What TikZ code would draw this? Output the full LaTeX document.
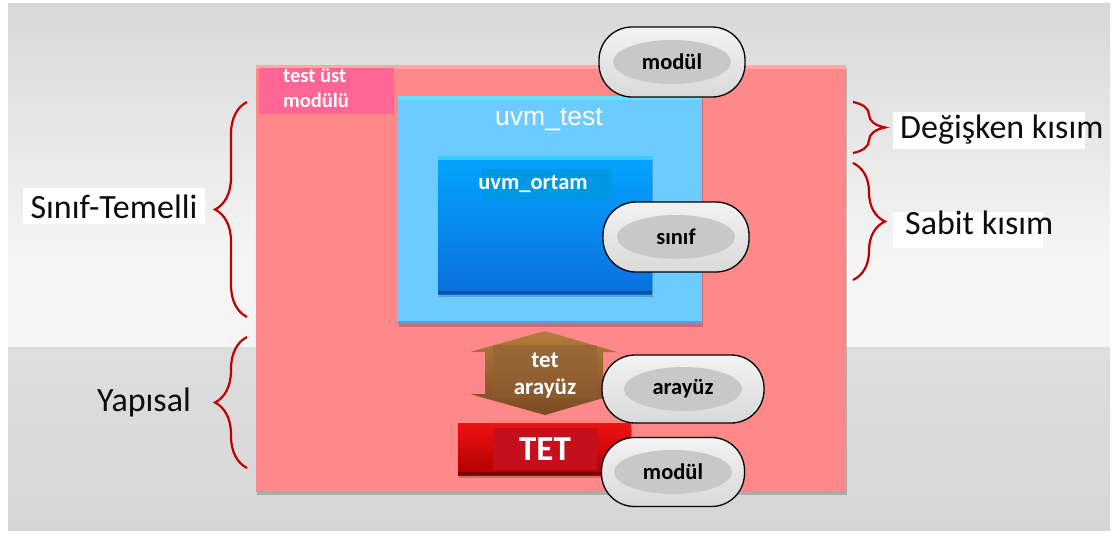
\documentclass[tikz,border=0pt]{standalone}
\usepackage{fontspec}
\setmainfont{Carlito}
\newfontfamily\arialfont{Liberation Sans}
\usetikzlibrary{decorations.pathreplacing,shadows}

\definecolor{panelTop}{HTML}{D8D8D8}
\definecolor{panelMid}{HTML}{F5F5F5}
\definecolor{panelLow}{HTML}{DEDEDE}
\definecolor{panelBot}{HTML}{D6D6D6}
\definecolor{braceRed}{HTML}{C00000}
\definecolor{labelInk}{HTML}{0D0D0D}
\definecolor{moduleRed}{HTML}{FF8888}
\definecolor{moduleEdge}{HTML}{FFAAAA}
\definecolor{tagPink}{HTML}{FF6696}
\definecolor{testBlue}{HTML}{6CCBFF}
\definecolor{testEdge}{HTML}{5FE3FF}
\definecolor{envTop}{HTML}{04A6FF}
\definecolor{envBot}{HTML}{0A6FDE}
\definecolor{envEdge}{HTML}{35CCFF}
\definecolor{envTag}{HTML}{0098E2}
\definecolor{pillTop}{HTML}{F2F2F2}
\definecolor{pillBot}{HTML}{D9D9D9}
\definecolor{pillCore}{HTML}{C8C8C8}
\definecolor{arrowTop}{HTML}{B37D3C}
\definecolor{arrowBot}{HTML}{7A4A22}
\definecolor{arrowTag}{HTML}{8E6038}
\definecolor{dutTop}{HTML}{F01212}
\definecolor{dutBot}{HTML}{B00000}
\definecolor{dutTag}{HTML}{C4101C}

\begin{document}
\begin{tikzpicture}[x=1pt,y=-1pt,
  box/.style={anchor=north west, inner sep=0pt, outer sep=0pt},
  softshadow/.style={drop shadow={shadow xshift=1pt, shadow yshift=-2.5pt, fill=black, opacity=0.2}},
  pill/.style={draw=black, line width=1.3pt, rounded corners=33pt,
    minimum width=146pt, minimum height=70pt, inner sep=0pt,
    top color=pillTop, bottom color=pillBot, text=black,
    font=\fontsize{22.5}{26}\selectfont\bfseries,
    path picture={\fill[pillCore] (path picture bounding box.center)
      ellipse [x radius=59pt, y radius=22pt];}},
  sidebrace/.style={draw=braceRed, line width=2.2pt,
    decorate, decoration={brace, amplitude=32pt}},
  sidelabel/.style={text=labelInk, inner sep=0pt, font=\fontsize{34}{40}\selectfont},
  whitetag/.style={box, fill=white},
]
\useasboundingbox (0,0) rectangle (1117,533);
\fill[white] (0,0) rectangle (1117,533);

% backdrop panel
\shade[top color=panelTop, bottom color=panelMid] (8,3) rectangle (1110,260);
\fill[panelMid] (8,259) rectangle (1110,347);
\shade[top color=panelLow, bottom color=panelBot] (8,347) rectangle (1110,530);

% braces
\coordinate (clsTop) at (247,102);
\coordinate (clsBot) at (247,317);
\coordinate (strTop) at (247,337);
\coordinate (strBot) at (247,468);
\coordinate (varTop) at (853,102);
\coordinate (varBot) at (853,153);
\coordinate (fixTop) at (853,163);
\coordinate (fixBot) at (853,280);
\draw[sidebrace] (clsBot) -- (clsTop);
\draw[sidebrace] (strBot) -- (strTop);
\draw[sidebrace] (varTop) -- (varBot);
\draw[sidebrace] (fixTop) -- (fixBot);

% side labels
\node[whitetag, minimum width=182pt, minimum height=36pt] (clsbox) at (23,188) {};
\node[sidelabel, anchor=base] (clslbl) at (114,218) {Sınıf-Temelli};
\node[sidelabel, anchor=base west] (strlbl) at (97,411) {Yapısal};
\node[whitetag, minimum width=192pt, minimum height=37pt] (varbox) at (893,112) {};
\node[sidelabel, anchor=base west] (varlbl) at (900,138) {Değişken kısım};
\node[whitetag, minimum width=150pt, minimum height=36pt] (fixbox) at (893,212) {};
\node[sidelabel, anchor=base west] (fixlbl) at (905,234) {Sabit kısım};

% top module
\node[box, fill=moduleRed, minimum width=590pt, minimum height=427pt, softshadow] (top) at (256,65) {};
\fill[moduleEdge] (top.north west) rectangle ([yshift=-3.5pt]top.north east);
\node[box, fill=tagPink, minimum width=135pt, minimum height=46pt] (toptag) at (259,68) {};
\node[anchor=west, align=left, text=white, inner sep=0pt,
  font=\fontsize{20.5}{25}\selectfont\bfseries] (toplbl) at (283,88) {test üst\\modülü};

% uvm_test
\node[box, fill=testBlue, minimum width=304pt, minimum height=228pt, softshadow] (test) at (398,96) {};
\fill[testEdge] (test.north west) rectangle ([yshift=-4pt]test.north east);
\fill[testBlue!80!black] ([yshift=3pt]test.south west) rectangle (test.south east);
\node[text=white, inner sep=0pt, font=\arialfont\fontsize{26.5}{30}\selectfont] (testlbl) at (549,120) {uvm\_test};

% uvm_ortam
\node[box, top color=envTop, bottom color=envBot, minimum width=214pt, minimum height=138pt, softshadow] (env) at (438,156) {};
\fill[envEdge] (env.north west) rectangle ([yshift=-4pt]env.north east);
\fill[envBot!75!black] ([yshift=3pt]env.south west) rectangle (env.south east);
\node[box, fill=envTag, minimum width=130pt, minimum height=30pt] (envtag) at (482,169) {};
\node[text=white, inner sep=0pt, font=\fontsize{22.5}{26}\selectfont\bfseries] (envlbl) at (533,184) {uvm\_ortam};

% interface arrow
\shade[top color=arrowTop, bottom color=arrowBot]
  (545,331) -- (617,352) -- (603,352) -- (603,394) -- (617,394) -- (545,415)
  -- (470,394) -- (485,394) -- (485,352) -- (470,352) -- cycle;
\node[box, fill=arrowTag, fill opacity=0.55, minimum width=104pt, minimum height=53pt] (ifctag) at (493,345) {};
\node[align=center, text=white, inner sep=0pt,
  font=\fontsize{23}{27}\selectfont\bfseries] (ifclbl) at (545,376) {tet\\arayüz};

% DUT
\node[box, top color=dutTop, bottom color=dutBot, minimum width=173pt, minimum height=52pt, softshadow] (dut) at (458,423) {};
\fill[dutBot!70!black] ([yshift=3pt]dut.south west) rectangle (dut.south east);
\node[box, fill=dutTag, minimum width=104pt, minimum height=42pt] (duttag) at (493,428) {};
\node[text=white, inner sep=0pt, font=\fontsize{35}{40}\selectfont\bfseries] (dutlbl) at (545,449) {TET};

% kind markers
\node[pill] (modtop) at (672,62) {modül};
\node[pill] (cls) at (676,237) {sınıf};
\node[pill, minimum width=162pt, minimum height=68pt] (ifcpill) at (683,389) {arayüz};
\node[pill, minimum width=143pt, minimum height=69pt] (modbot) at (673,472) {modül};
\end{tikzpicture}
\end{document}
